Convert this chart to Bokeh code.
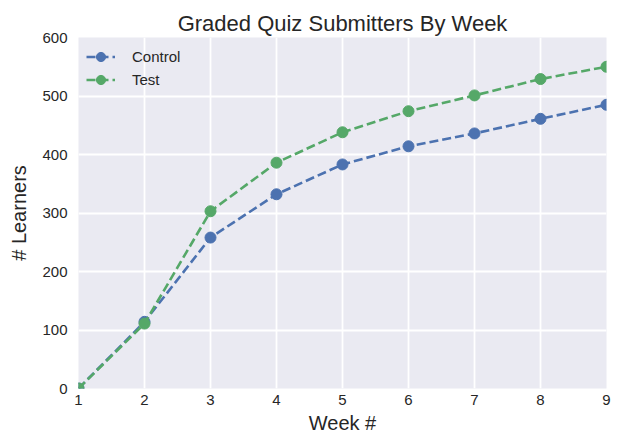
from bokeh.plotting import figure
from bokeh.models import Range1d, FixedTicker, Legend, LegendItem
from bokeh.embed import file_html
from bokeh.resources import INLINE

weeks = [1, 2, 3, 4, 5, 6, 7, 8, 9]
control = [0, 114, 258, 332, 383, 414, 436, 461, 485]
test = [0, 111, 303, 386, 438, 474, 501, 529, 550]
y_ticks = [0, 100, 200, 300, 400, 500, 600]

BLUE = "#4C72B0"
GREEN = "#55A868"
FONT = "Liberation Sans"
TXT = "#262626"

p = figure(width=623, height=438, output_backend="svg", toolbar_location=None,
           x_range=Range1d(1, 9), y_range=Range1d(0, 600),
           min_border_left=78, min_border_right=17, min_border_top=37, min_border_bottom=50)
p.background_fill_color = "#EAEAF2"
p.border_fill_color = "white"
p.outline_line_color = None

p.title.text = "Graded Quiz Submitters By Week"
p.title.align = "center"
p.title.text_font = FONT
p.title.text_font_size = "22px"
p.title.text_font_style = "normal"
p.title.text_color = TXT
p.title.standoff = 3

p.xaxis.ticker = FixedTicker(ticks=weeks)
p.yaxis.ticker = FixedTicker(ticks=y_ticks)
for ax in (p.xaxis, p.yaxis):
    ax.axis_line_color = None
    ax.major_tick_line_color = None
    ax.minor_tick_line_color = None
    ax.major_tick_out = 0
    ax.major_tick_in = 0
    ax.minor_tick_out = 0
    ax.minor_tick_in = 0
    ax.major_label_text_font = FONT
    ax.major_label_text_font_size = "15px"
    ax.major_label_text_color = TXT
    ax.axis_label_text_font = FONT
    ax.axis_label_text_font_size = "20px"
    ax.axis_label_text_font_style = "normal"
    ax.axis_label_text_color = TXT
p.xaxis.axis_label = "Week #"
p.yaxis.axis_label = "# Learners"
p.xaxis.major_label_standoff = 6
p.xaxis.axis_label_standoff = 4
p.yaxis.major_label_standoff = 11
p.yaxis.axis_label_standoff = 9

p.grid.grid_line_color = "white"
p.grid.grid_line_width = 1.8

lc = p.line(weeks, control, line_color=BLUE, line_width=2.6, line_dash="9 4")
sc = p.scatter(weeks, control, size=11, fill_color=BLUE, line_color=BLUE)
lt = p.line(weeks, test, line_color=GREEN, line_width=2.6, line_dash="9 4")
st = p.scatter(weeks, test, size=11, fill_color=GREEN, line_color=GREEN)

legend = Legend(items=[LegendItem(label="Control", renderers=[lc, sc]),
                       LegendItem(label="Test", renderers=[lt, st])],
                location=(8, 297))
legend.background_fill_alpha = 0
legend.border_line_color = None
legend.label_text_font = FONT
legend.label_text_font_size = "15px"
legend.label_text_color = TXT
legend.glyph_width = 29
legend.glyph_height = 23
legend.label_height = 23
legend.label_standoff = 17
legend.spacing = 0
legend.padding = 6
legend.margin = 0
p.add_layout(legend)

open("out.html", "w").write(file_html(p, INLINE))
